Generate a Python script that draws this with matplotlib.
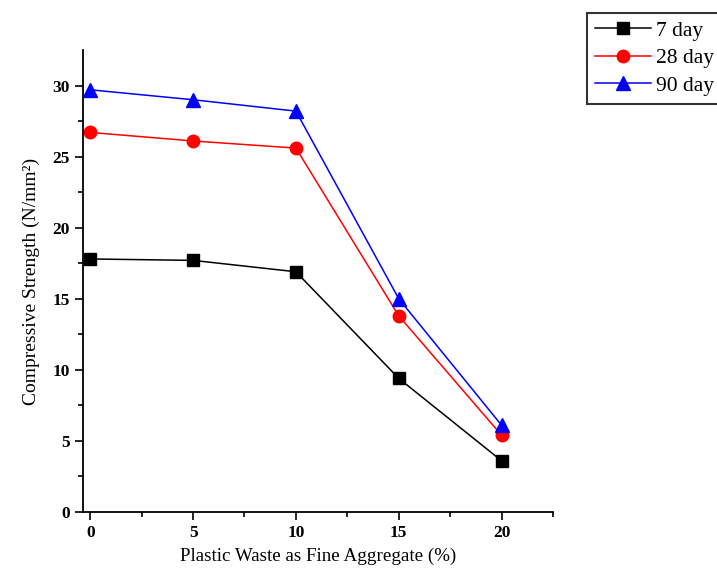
import numpy as np
import matplotlib
matplotlib.use("Agg")
import matplotlib.pyplot as plt

plt.rcParams['font.family'] = ['Liberation Serif', 'DejaVu Serif']

# data
waste = [0, 5, 10, 15, 20]
day7 = [17.8, 17.7, 16.9, 9.4, 3.6]
day28 = [26.7, 26.1, 25.6, 13.8, 5.4]
day90 = [29.7, 29.0, 28.2, 15.0, 6.1]

fig = plt.figure(figsize=(7.17, 5.72), dpi=100)
ax = fig.add_axes([0.1158, 0.1049, 0.6555, 0.8077])

ax.plot(waste, day7, color="black", marker="s", markersize=8.5, lw=1.1, label="7 day")
ax.plot(waste, day28, color="red", marker="o", markersize=9, lw=1.1, label="28 day")
ax.plot(waste, day90, color="blue", marker="^", markersize=9.5, lw=1.1, label="90 day")

ax.set_xlim(-0.35, 22.5)
ax.set_ylim(0, 32.5)
ax.set_xticks([0, 5, 10, 15, 20])
ax.set_xticks([2.5, 7.5, 12.5, 17.5, 22.5], minor=True)
ax.set_yticks([0, 5, 10, 15, 20, 25, 30])
ax.set_yticks([2.5, 7.5, 12.5, 17.5, 22.5, 27.5], minor=True)

for s in ["top", "right"]:
    ax.spines[s].set_visible(False)
for s in ["left", "bottom"]:
    ax.spines[s].set_linewidth(1.3)
ax.tick_params(which="major", direction="out", length=5.5, width=1.2,
               labelsize=12.5, pad=4)
ax.tick_params(which="minor", direction="out", length=3.5, width=1.2)
for lab in ax.get_xticklabels() + ax.get_yticklabels():
    lab.set_fontweight("bold")

ax.set_xlabel("Plastic Waste as Fine Aggregate (%)", fontsize=13.7, labelpad=5)
ax.set_ylabel("Compressive Strength (N/mm²)", fontsize=14, labelpad=9)

leg = ax.legend(loc="upper left", bbox_to_anchor=(0.8187, 0.977),
                bbox_transform=fig.transFigure, fontsize=15.5, frameon=True,
                fancybox=False, edgecolor="black", handlelength=2.6,
                borderaxespad=0, borderpad=0.35, labelspacing=0.35,
                handletextpad=0.25)
leg.get_frame().set_linewidth(1.5)
leg._legend_box.sep = 0

fig.savefig("out.png", dpi=100)
